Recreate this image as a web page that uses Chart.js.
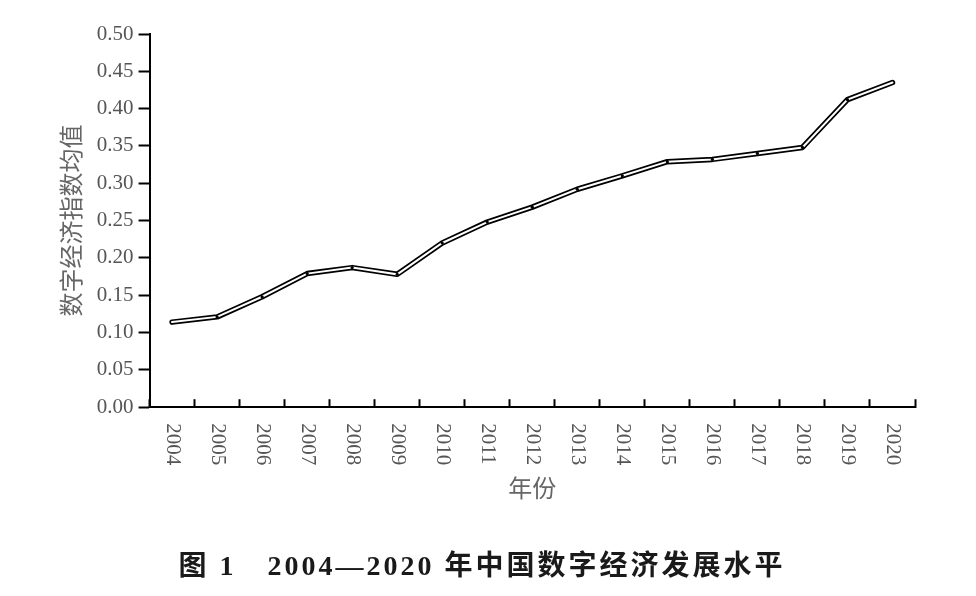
<!DOCTYPE html>
<html>
<head>
<meta charset="utf-8">
<script src="https://cdn.jsdelivr.net/npm/chart.js@4.4.1/dist/chart.umd.min.js"></script>
<style>
  html, body { margin: 0; padding: 0; background: #fff; }
</style>
</head>
<body>
<canvas id="econChart" width="976" height="596"></canvas>
<script>
// data
const years = ['2004', '2005', '2006', '2007', '2008', '2009', '2010', '2011', '2012',
  '2013', '2014', '2015', '2016', '2017', '2018', '2019', '2020'];
const indexValues = [0.114, 0.121, 0.148, 0.179, 0.187, 0.178, 0.220, 0.248, 0.268,
  0.292, 0.310, 0.329, 0.332, 0.340, 0.348, 0.412, 0.435];
const yTickValues = [0, 0.05, 0.10, 0.15, 0.20, 0.25, 0.30, 0.35, 0.40, 0.45, 0.50];
const yAxisTitle = '数字经济指数均值';
const xAxisTitle = '年份';
const figureTitle = '图 1　2004—2020 年中国数字经济发展水平';

// year labels read top-to-bottom (clockwise), chart.js only rotates the other way
const yearLabels = {
  id: 'yearLabels',
  afterDraw(chart) {
    const scale = chart.scales.x;
    const ctx = chart.ctx;
    ctx.save();
    ctx.fillStyle = '#555';
    ctx.font = '21px "Liberation Serif"';
    ctx.textAlign = 'left';
    ctx.textBaseline = 'middle';
    years.forEach((yr, i) => {
      ctx.save();
      ctx.translate(scale.getPixelForTick(i), scale.top + 16);
      ctx.rotate(Math.PI / 2);
      ctx.fillText(yr, 0, 0);
      ctx.restore();
    });

    // caption under the figure
    ctx.fillStyle = '#1a1a1a';
    ctx.font = 'bold 28px "Liberation Serif", "Noto Sans CJK SC"';
    ctx.letterSpacing = '3px';
    ctx.textAlign = 'center';
    ctx.fillText(figureTitle, chart.width / 2 - 6, 568);
    ctx.restore();
  }
};

const lastIdx = indexValues.length - 1;

new Chart(document.getElementById('econChart'), {
  type: 'line',
  data: {
    labels: years,
    datasets: [
      {
        // white core of the double line
        data: indexValues,
        borderColor: '#fff',
        borderWidth: 2,
        borderCapStyle: 'round',
        pointRadius: (c) => (c.dataIndex === 0 || c.dataIndex === lastIdx) ? 0 : 1.6,
        pointBackgroundColor: '#000',
        pointBorderWidth: 0,
        tension: 0,
        order: 0
      },
      {
        // black outline
        data: indexValues,
        borderColor: '#000',
        borderWidth: 5.5,
        borderCapStyle: 'round',
        borderJoinStyle: 'round',
        pointRadius: 0,
        tension: 0,
        order: 1
      }
    ]
  },
  options: {
    responsive: false,
    animation: false,
    devicePixelRatio: 1,
    layout: {
      padding: { left: 43, right: 61, top: 34, bottom: 94 }
    },
    plugins: {
      legend: { display: false },
      tooltip: { enabled: false }
    },
    scales: {
      x: {
        offset: true,
        grid: {
          offset: true,
          drawOnChartArea: false,
          tickLength: -8,
          tickWidth: 2,
          tickColor: '#000'
        },
        border: { color: '#000', width: 2 },
        ticks: {
          color: 'rgba(0,0,0,0)',
          font: { family: 'Liberation Serif', size: 20 },
          minRotation: 90,
          maxRotation: 90,
          padding: 12,
          autoSkip: false
        },
        title: {
          display: true,
          text: xAxisTitle,
          color: '#666',
          font: { family: 'Noto Sans CJK SC', size: 24 },
          padding: { top: 10, bottom: 0 }
        }
      },
      y: {
        min: 0,
        max: 0.5,
        afterBuildTicks: (axis) => {
          axis.ticks = yTickValues.map(v => ({ value: v }));
        },
        grid: {
          drawOnChartArea: false,
          tickLength: 11,
          tickWidth: 2,
          tickColor: '#000'
        },
        border: { color: '#000', width: 2 },
        ticks: {
          color: '#555',
          font: { family: 'Liberation Serif', size: 21 },
          padding: 5,
          callback: (v) => Number(v).toFixed(2)
        },
        title: {
          display: true,
          text: yAxisTitle,
          color: '#666',
          font: { family: 'Noto Sans CJK SC', size: 24 },
          padding: { top: 13, bottom: 7 }
        }
      }
    }
  },
  plugins: [yearLabels]
});
</script>
</body>
</html>
